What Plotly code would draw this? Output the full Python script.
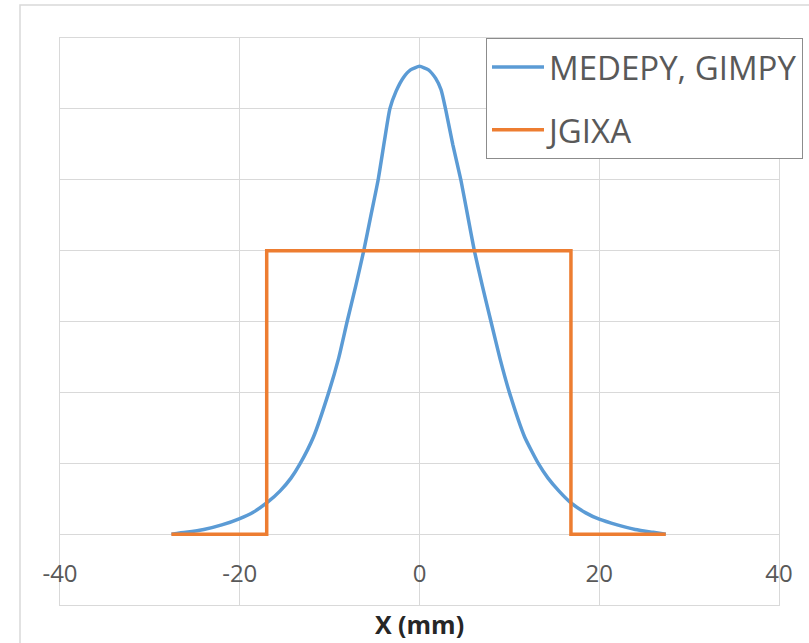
import plotly.graph_objects as go

# Beam profile across X (mm)
profile_x = [-27.6, -26, -24, -22, -20, -18.5, -16.9, -15.5, -14.3, -13.3, -11.8, -10.1, -9.0,
             -8.05, -7.1, -6.2, -5.4, -4.6, -3.9, -3.3, -2.6, -1.8, -1.0, 0,
             1.0, 1.8, 2.4, 2.9, 3.7, 4.6, 5.35, 6.1, 7.0, 7.95, 8.95, 10.0, 11.7,
             13.25, 14.3, 15.5, 16.85, 18.5, 20, 22, 24, 26, 27.4]
profile_y = [0.0, 0.025, 0.065, 0.13, 0.22, 0.31, 0.45, 0.61, 0.79, 0.99, 1.37, 2.0, 2.48,
             3.0, 3.5, 4.0, 4.5, 5.0, 5.55, 6.0, 6.25, 6.44, 6.55, 6.6,
             6.55, 6.43, 6.27, 6.0, 5.5, 5.0, 4.5, 4.0, 3.5, 3.0, 2.48, 2.0, 1.37,
             0.99, 0.79, 0.61, 0.44, 0.3, 0.21, 0.13, 0.065, 0.025, 0.0]

# Flat-top profile
flat_x = [-27.6, -17.0, -17.0, 16.85, 16.85, 27.4]
flat_y = [0, 0, 4, 4, 0, 0]

series_names = ["MEDEPY, GIMPY", "JGIXA"]
x_ticks = [-40, -20, 0, 20, 40]

W, H = 809, 643
L, R, T, B = 60, 6, 38, 38
pw, ph = W - L - R, H - T - B
plot_right = 779  # right edge of the axes area

grid = "#d9d9d9"
font_family = "Open Sans, Segoe UI, sans-serif"

fig = go.Figure()
fig.add_trace(go.Scatter(x=profile_x, y=profile_y, mode="lines", name=series_names[0],
                         legendgroup="a",
                         line=dict(color="#5b9bd5", width=3.5, shape="spline", smoothing=0.5)))
fig.add_trace(go.Scatter(x=flat_x, y=flat_y, mode="lines", name=series_names[1],
                         legendgroup="b", line=dict(color="#ed7d31", width=3.5)))

fig.update_layout(
    width=W, height=H,
    margin=dict(l=L, r=R, t=T, b=B, pad=0, autoexpand=False),
    paper_bgcolor="white", plot_bgcolor="white",
    font=dict(family=font_family, color="#595959"),
    showlegend=True,
    legend=dict(
        x=1.0, xanchor="right",
        y=1.0, yanchor="top",
        bgcolor="white", bordercolor="#8c8c8c", borderwidth=1,
        font=dict(size=33, color="#595959", family=font_family),
        tracegroupgap=17, itemwidth=52,
    ),
    xaxis=dict(
        domain=[0, (plot_right - L) / pw], automargin=False,
        range=[-40, 40], tickvals=x_ticks, ticktext=[str(v) for v in x_ticks],
        showgrid=True, gridcolor=grid, gridwidth=1,
        zeroline=False, showline=True, linecolor=grid, mirror=True,
        ticks="", ticklabelposition="inside", ticklabelstandoff=20,
        ticklabeloverflow="allow",
        tickfont=dict(size=24, color="#595959"),
        title=dict(text="<b>X (mm)</b>", font=dict(size=25, color="#262626"), standoff=28),
    ),
    yaxis=dict(
        range=[-1, 7], dtick=1, showticklabels=False, automargin=False,
        showgrid=True, gridcolor=grid, gridwidth=1,
        zeroline=False, showline=True, linecolor=grid, mirror=True, ticks="",
    ),
    shapes=[dict(
        type="rect", xref="paper", yref="paper",
        x0=(20 - L) / pw, x1=1.2, y0=-0.3, y1=(H - B - 5) / ph,
        line=dict(color=grid, width=1.5), fillcolor="rgba(0,0,0,0)", layer="below",
    )],
)

fig.write_html("out.html")
